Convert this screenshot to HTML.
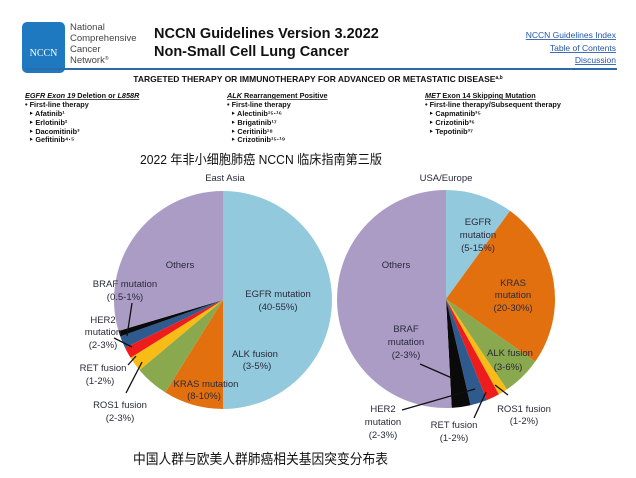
<!DOCTYPE html>
<html><head><meta charset="utf-8"><style>
body{margin:0;width:636px;height:473px;background:#fff;overflow:hidden;font-family:"Liberation Sans",Arial,sans-serif}
</style></head><body>
<svg id="s" width="636" height="473" viewBox="0 0 636 473" xmlns="http://www.w3.org/2000/svg" font-family="Liberation Sans, Arial, sans-serif">
<rect width="636" height="473" fill="#fff"/>
<rect x="22" y="22" width="43" height="51" rx="5" fill="#1f79c0"/>
<text x="43.5" y="56" font-family="Liberation Serif,serif" font-size="10" fill="#fff" text-anchor="middle">NCCN</text>
<g font-size="9.5" fill="#444"><text x="70" y="30">National</text><text x="70" y="41">Comprehensive</text><text x="70" y="52">Cancer</text><text x="70" y="63">Network<tspan font-size="5" dy="-3">®</tspan></text></g>
<text x="154" y="38" font-size="14.5" font-weight="bold" fill="#111">NCCN Guidelines Version 3.2022</text>
<text x="154" y="56" font-size="14.5" font-weight="bold" fill="#111">Non-Small Cell Lung Cancer</text>
<g font-size="8.5" fill="#2255aa" text-anchor="end" text-decoration="underline"><text x="616" y="38">NCCN Guidelines Index</text><text x="616" y="51">Table of Contents</text><text x="616" y="63">Discussion</text></g>
<rect x="25" y="68" width="592" height="2" fill="#2f6aa8"/>
<text x="318" y="82" font-size="8.5" font-weight="bold" text-anchor="middle" fill="#111">TARGETED THERAPY OR IMMUNOTHERAPY FOR ADVANCED OR METASTATIC DISEASE<tspan font-size="5" dy="-3">a,b</tspan></text>
<g font-size="7.3" font-weight="bold" fill="#111">
<text x="25" y="98" text-decoration="underline"><tspan font-style="italic">EGFR Exon 19</tspan> Deletion or <tspan font-style="italic">L858R</tspan></text>
<text x="25" y="107">• First-line therapy</text><text x="29" y="116">‣ Afatinib¹</text><text x="29" y="125">‣ Erlotinib²</text><text x="29" y="134">‣ Dacomitinib³</text><text x="29" y="142">‣ Gefitinib⁴·⁵</text>
<text x="227" y="98" text-decoration="underline"><tspan font-style="italic">ALK</tspan> Rearrangement Positive</text>
<text x="227" y="107">• First-line therapy</text><text x="231" y="116">‣ Alectinib¹⁵·¹⁶</text><text x="231" y="125">‣ Brigatinib¹⁷</text><text x="231" y="134">‣ Ceritinib¹⁸</text><text x="231" y="142">‣ Crizotinib¹⁵·¹⁹</text>
<text x="425" y="98" text-decoration="underline"><tspan font-style="italic">MET</tspan> Exon 14 Skipping Mutation</text>
<text x="425" y="107">• First-line therapy/Subsequent therapy</text><text x="429" y="116">‣ Capmatinib³⁵</text><text x="429" y="125">‣ Crizotinib³⁶</text><text x="429" y="134">‣ Tepotinib³⁷</text>
</g>
<text x="140" y="164" font-size="13" textLength="242" lengthAdjust="spacingAndGlyphs" fill="#111" font-family="Liberation Sans, Noto Sans CJK SC, sans-serif">2022 年非小细胞肺癌 NCCN 临床指南第三版</text>
<g id="pies"></g>
<g font-size="9.5" fill="#2a2a3a" text-anchor="middle">
<text x="225" y="181">East Asia</text>
<text x="180" y="268">Others</text>
<text x="125" y="287">BRAF mutation</text><text x="125" y="300">(0.5-1%)</text>
<text x="103" y="323">HER2</text><text x="103" y="335">mutation</text><text x="103" y="348">(2-3%)</text>
<text x="103" y="371">RET fusion</text><text x="100" y="384">(1-2%)</text>
<text x="120" y="408">ROS1 fusion</text><text x="120" y="421">(2-3%)</text>
<text x="255" y="357">ALK fusion</text><text x="257" y="369">(3-5%)</text>
<text x="206" y="387">KRAS mutation</text><text x="204" y="399">(8-10%)</text>
<text x="278" y="297">EGFR mutation</text><text x="278" y="310">(40-55%)</text>
<text x="446" y="181">USA/Europe</text>
<text x="478" y="225">EGFR</text><text x="478" y="238">mutation</text><text x="478" y="251">(5-15%)</text>
<text x="396" y="268">Others</text>
<text x="513" y="286">KRAS</text><text x="513" y="298">mutation</text><text x="513" y="311">(20-30%)</text>
<text x="510" y="356">ALK fusion</text><text x="508" y="370">(3-6%)</text>
<text x="406" y="332">BRAF</text><text x="406" y="345">mutation</text><text x="406" y="358">(2-3%)</text>
<text x="383" y="412">HER2</text><text x="383" y="425">mutation</text><text x="383" y="438">(2-3%)</text>
<text x="454" y="428">RET fusion</text><text x="454" y="441">(1-2%)</text>
<text x="524" y="412">ROS1 fusion</text><text x="524" y="424">(1-2%)</text>
</g>
<g stroke="#111" stroke-width="1.3">
<line x1="132" y1="303" x2="127" y2="336"/><line x1="114" y1="338" x2="132" y2="347"/>
<line x1="128" y1="365" x2="136" y2="356"/><line x1="126" y1="393" x2="142" y2="362"/>
<line x1="420" y1="364" x2="452" y2="378"/><line x1="402" y1="410" x2="475" y2="389"/>
<line x1="474" y1="418" x2="486" y2="392"/><line x1="508" y1="395" x2="495" y2="385"/>
</g>
<text x="133" y="464" font-size="14" textLength="255" lengthAdjust="spacingAndGlyphs" fill="#111" font-family="Liberation Sans, Noto Sans CJK SC, sans-serif">中国人群与欧美人群肺癌相关基因突变分布表</text>
</svg>
<script>
var C={eg:"#93c9dd",kr:"#e2700f",al:"#8aa84e",ro:"#f7bd16",re:"#ee1c1c",he:"#2e5a8e",br:"#0a0a0a",ot:"#ab9cc6"};
function pie(cx,cy,r,segs){var g=document.getElementById("pies"),ns="http://www.w3.org/2000/svg";
segs.forEach(function(s){var a0=(s[0]-90)*Math.PI/180,a1=(s[1]-90)*Math.PI/180;
var p=document.createElementNS(ns,"path");
var d="M"+cx+","+cy+"L"+(cx+r*Math.cos(a0))+","+(cy+r*Math.sin(a0))+"A"+r+","+r+" 0 "+((s[1]-s[0])>180?1:0)+" 1 "+(cx+r*Math.cos(a1))+","+(cy+r*Math.sin(a1))+"Z";
p.setAttribute("d",d);p.setAttribute("fill",C[s[2]]);g.appendChild(p);});}
pie(223,300,109,[[0,180,"eg"],[180,212,"kr"],[212,230,"al"],[230,238,"ro"],[238,244,"re"],[244,250.5,"he"],[250.5,253.5,"br"],[253.5,360,"ot"]]);
pie(446,299,109,[[0,36,"eg"],[36,125,"kr"],[125,146,"al"],[146,151,"ro"],[151,158,"re"],[158,167,"he"],[167,177,"br"],[177,360,"ot"]]);
</script>
</body></html>
